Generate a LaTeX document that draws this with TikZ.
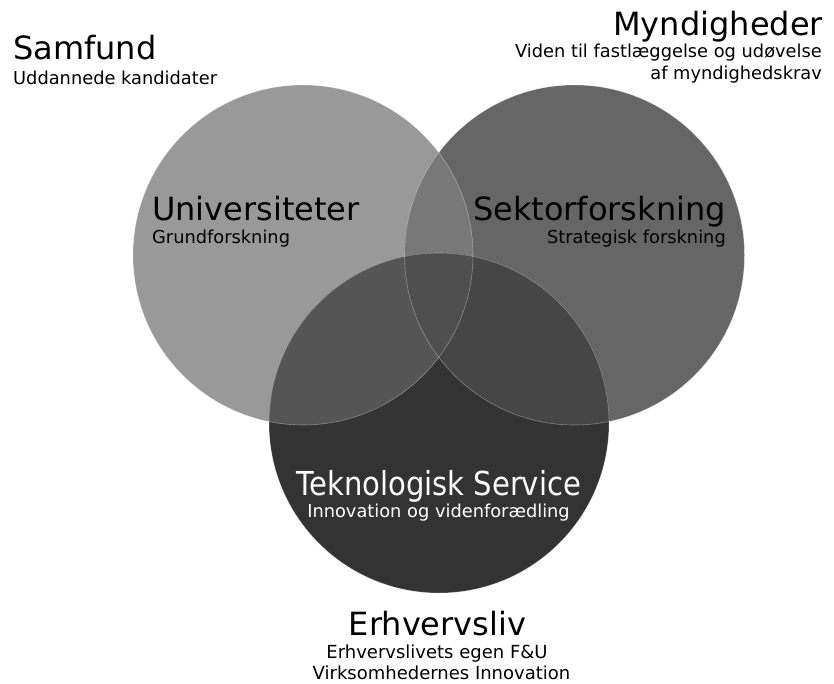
\documentclass[tikz,border=0pt]{standalone}
\usepackage{fontspec}
\setmainfont{DejaVu Sans}
\newfontfamily\narrowfont{DejaVu Sans}[FakeStretch=0.88]
\definecolor{cUni}{HTML}{999999}
\definecolor{cSek}{HTML}{666666}
\definecolor{cTek}{HTML}{333333}
\definecolor{cUniSek}{HTML}{787878}
\definecolor{cUniTek}{HTML}{555555}
\definecolor{cSekTek}{HTML}{464646}
\definecolor{cAll}{HTML}{4F4F4F}
\begin{document}
\begin{tikzpicture}[x=1pt,y=-1pt,
  title/.style={inner sep=0pt, font=\fontsize{32}{38}\selectfont},
  sub/.style={inner sep=0pt, font=\fontsize{17.8}{21}\selectfont},
  rim/.style={draw=white, draw opacity=0.35, line width=0.6pt}]
\useasboundingbox (0,0) rectangle (834,684);

% circle centres
\coordinate (cu) at (303,255);
\coordinate (cs) at (574.5,255);
\coordinate (ct) at (439,423);
\def\rad{170pt}

% upper two circles and their overlap
\fill[cUni] (cu) circle[radius=\rad];
\fill[cSek] (cs) circle[radius=\rad];
\begin{scope}
  \clip (cu) circle[radius=\rad];
  \fill[cUniSek] (cs) circle[radius=\rad];
\end{scope}

% lower circle and its overlaps
\fill[cTek] (ct) circle[radius=\rad];
\begin{scope}
  \clip (ct) circle[radius=\rad];
  \fill[cUniTek] (cu) circle[radius=\rad];
  \fill[cSekTek] (cs) circle[radius=\rad];
  \clip (cu) circle[radius=\rad];
  \fill[cAll] (cs) circle[radius=\rad];
\end{scope}

% faint light rims
\draw[rim] (cu) circle[radius=\rad];
\draw[rim] (cs) circle[radius=\rad];
\draw[rim] (ct) circle[radius=\rad];

% outer labels
\node[title, anchor=base west] (samfund) at (13,59.5) {Samfund};
\node[sub, anchor=base west] (samfundtxt) at (13,85) {Uddannede kandidater};
\node[title, anchor=base east] (myn) at (823,36) {Myndigheder};
\node[sub, anchor=base east] (myn1) at (822,57.5) {Viden til fastlæggelse og udøvelse};
\node[sub, anchor=base east] (myn2) at (822,79.5) {af myndighedskrav};

% circle labels
\node[title, anchor=base west] (uni) at (152,220.5) {Universiteter};
\node[sub, anchor=base west] (unitxt) at (152,244) {Grundforskning};
\node[title, anchor=base east] (sek) at (726,220.5) {Sektorforskning};
\node[sub, anchor=base east] (sektxt) at (726,243.5) {Strategisk forskning};
\node[inner sep=0pt, font=\narrowfont\fontsize{33}{40}\selectfont, text=white, anchor=base] (tek) at (438.8,495) {Teknologisk Service};
\node[sub, text=white, anchor=base] (tektxt) at (438.5,517.5) {Innovation og videnforædling};

% bottom label
\node[title, anchor=base] (erh) at (437.5,635) {Erhvervsliv};
\node[sub, font=\fontsize{18}{21}\selectfont, anchor=base] (erh1) at (437,658.5) {Erhvervslivets egen F\&U};
\node[sub, font=\fontsize{18}{21}\selectfont, anchor=base] (erh2) at (441.5,679.5) {Virksomhedernes Innovation};
\end{tikzpicture}
\end{document}
